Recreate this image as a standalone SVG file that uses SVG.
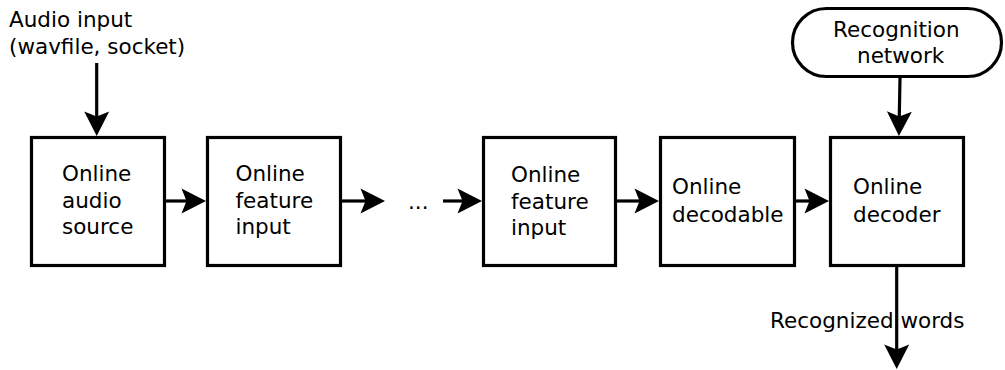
<svg xmlns="http://www.w3.org/2000/svg" width="1005" height="370" viewBox="0 0 1005 370">
  <style>
    text { font-family: "DejaVu Sans", "Liberation Sans", sans-serif; font-size: 21.5px; fill: #000; }
    .box { fill: #fff; stroke: #000; stroke-width: 3.2; }
    .edge { fill: none; stroke: #000; stroke-width: 3.2; marker-end: url(#head); }
  </style>
  <defs>
    <!-- concave arrowhead; its tip sits 15px past the end of the line -->
    <marker id="head" markerUnits="userSpaceOnUse" viewBox="-12 -14 30 28" markerWidth="30" markerHeight="28" refX="0" refY="0" orient="auto" overflow="visible">
      <path d="M15,0 L-9.5,-12.5 L-4.5,0 L-9.5,12.5 Z" fill="#000"/>
    </marker>
  </defs>

  <rect width="1005" height="370" fill="#fff"/>

  <text x="9" y="27">Audio input</text>
  <text x="9" y="53.5">(wavfile, socket)</text>

  <g id="edges">
    <path class="edge" d="M96.7,63 V121"/>
    <path class="edge" d="M166,201 H191"/>
    <path class="edge" d="M342,201 H370"/>
    <path class="edge" d="M443,201 H467"/>
    <path class="edge" d="M617,201 H644"/>
    <path class="edge" d="M796,201 H814"/>
    <path class="edge" d="M900,78 L899.2,121"/>
    <path class="edge" d="M896.7,267 V354"/>
  </g>

  <g id="audio-source">
    <rect class="box" x="31.5" y="137.5" width="133" height="128"/>
    <text x="62" y="181">Online</text>
    <text x="62" y="207.5">audio</text>
    <text x="62" y="234">source</text>
  </g>

  <g id="feature-input-1">
    <rect class="box" x="207.5" y="137.5" width="133" height="128"/>
    <text x="235.5" y="181">Online</text>
    <text x="235.5" y="207.5">feature</text>
    <text x="235.5" y="234">input</text>
  </g>

  <text id="ellipsis" x="408" y="209">...</text>

  <g id="feature-input-n">
    <rect class="box" x="483.5" y="137.5" width="132" height="128"/>
    <text x="511" y="182">Online</text>
    <text x="511" y="208.5">feature</text>
    <text x="511" y="235">input</text>
  </g>

  <g id="decodable">
    <rect class="box" x="660.5" y="137.5" width="134" height="128"/>
    <text x="672" y="194">Online</text>
    <text x="672" y="221.5">decodable</text>
  </g>

  <g id="decoder">
    <rect class="box" x="830.5" y="137.5" width="133" height="128"/>
    <text x="853" y="194">Online</text>
    <text x="853" y="221.5">decoder</text>
  </g>

  <g id="recognition-network">
    <rect class="box" x="792.5" y="8.5" width="209" height="68" rx="34" ry="34"/>
    <text x="833" y="37">Recognition</text>
    <text x="857" y="63">network</text>
  </g>

  <text x="770" y="328">Recognized words</text>
</svg>
